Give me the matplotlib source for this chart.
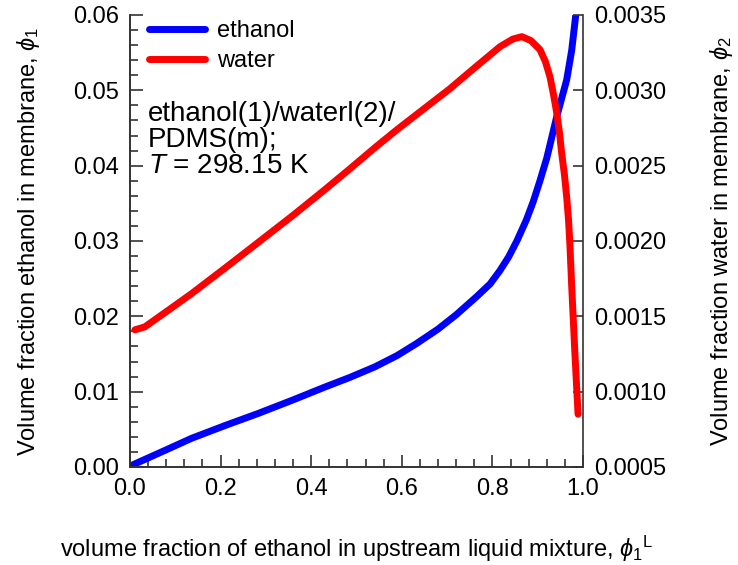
import matplotlib.pyplot as plt
from matplotlib.ticker import MultipleLocator

plt.rcParams['font.family'] = ['Liberation Sans', 'DejaVu Sans']
plt.rcParams['mathtext.fontset'] = 'custom'
plt.rcParams['mathtext.rm'] = 'Liberation Sans'
plt.rcParams['mathtext.it'] = 'Liberation Sans:italic'

# ethanol volume fraction in membrane (left axis)
x_eth = [0.007, 0.07, 0.136, 0.21, 0.283, 0.36, 0.43, 0.486, 0.541, 0.59,
         0.633, 0.68, 0.72, 0.765, 0.795, 0.817, 0.836, 0.854, 0.875, 0.89,
         0.905, 0.92, 0.942, 0.964, 0.975, 0.984]
phi1 = [0.0003, 0.0020, 0.0038, 0.0055, 0.0071, 0.0089, 0.0106, 0.0119,
        0.0133, 0.0148, 0.0164, 0.0183, 0.0202, 0.0226, 0.0243, 0.0261,
        0.0279, 0.0300, 0.0328, 0.0352, 0.0380, 0.0410, 0.0465, 0.0514,
        0.0553, 0.0600]

# water volume fraction in membrane (right axis)
x_wat = [0.011, 0.033, 0.08, 0.136, 0.21, 0.283, 0.36, 0.43, 0.486, 0.541,
         0.59, 0.633, 0.706, 0.765, 0.817, 0.845, 0.865, 0.885, 0.905, 0.917,
         0.927, 0.935, 0.942, 0.948, 0.953, 0.959, 0.964, 0.968, 0.971,
         0.975, 0.982, 0.989]
phi2 = [0.00141, 0.00143, 0.00153, 0.00165, 0.00182, 0.00199, 0.00217,
        0.00234, 0.00248, 0.00262, 0.00274, 0.00284, 0.00301, 0.00316,
        0.00329, 0.00334, 0.003356, 0.00333, 0.00327, 0.00319, 0.00309,
        0.00297, 0.00285, 0.00272, 0.00258, 0.00244, 0.00229, 0.00214,
        0.00198, 0.00170, 0.00126, 0.00085]

fs = 17

fig = plt.figure(figsize=(7.38, 5.65), dpi=100)
ax = fig.add_axes([0.176, 0.1735, 0.614, 0.8])
ax2 = ax.twinx()

l1, = ax.plot(x_eth, phi1, color='#0000ff', lw=5, solid_capstyle='round',
              solid_joinstyle='round', label='ethanol')
l2, = ax2.plot(x_wat, phi2, color='#ff0000', lw=5, solid_capstyle='round',
               solid_joinstyle='round', label='water')

ax.set_xlim(0, 1.0)
ax.set_ylim(0, 0.06)
ax2.set_ylim(0.0005, 0.0035)

ax.xaxis.set_major_locator(MultipleLocator(0.2))
ax.xaxis.set_minor_locator(MultipleLocator(0.04))
ax.yaxis.set_major_locator(MultipleLocator(0.01))
ax.yaxis.set_minor_locator(MultipleLocator(0.002))
ax2.yaxis.set_major_locator(MultipleLocator(0.0005))

ax.xaxis.set_major_formatter(lambda v, p: f'{v:.1f}')
ax.yaxis.set_major_formatter(lambda v, p: f'{v:.2f}')
ax2.yaxis.set_major_formatter(lambda v, p: f'{v:.4f}')

for a in (ax, ax2):
    a.spines['top'].set_visible(False)
    for s in a.spines.values():
        s.set_color('#333333')
        s.set_linewidth(1.2)
ax.spines['right'].set_visible(False)

ax.tick_params(which='both', direction='in', color='#333333', labelsize=fs, pad=8)
ax.tick_params(which='major', length=9, width=1.2)
ax.tick_params(which='minor', length=6, width=1.2)
ax.tick_params(axis='x', which='both', top=False)
ax2.tick_params(which='major', direction='in', length=7, width=1.2,
                color='#333333', labelsize=fs, pad=8)

ax.set_xlabel(r'volume fraction of ethanol in upstream liquid mixture, $\phi_1{}^{\mathrm{L}}$',
              fontsize=17, labelpad=24)
ax.set_ylabel(r'Volume fraction ethanol in membrane, $\phi_1$', fontsize=17, labelpad=22)
ax2.set_ylabel(r'Volume fraction water in membrane, $\phi_2$', fontsize=17, labelpad=30)

ax2.legend(handles=[l1, l2], loc='upper left', frameon=False, fontsize=fs,
           handlelength=2.4, handletextpad=0.5, borderaxespad=0.2,
           labelspacing=0.35, bbox_to_anchor=(0.01, 1.02))

ax.text(0.04, 0.81, 'ethanol(1)/waterl(2)/\nPDMS(m);\n$T$ = 298.15 K',
        transform=ax.transAxes, fontsize=20, va='top', ha='left', linespacing=1.0)

fig.savefig('out.png', dpi=100)
